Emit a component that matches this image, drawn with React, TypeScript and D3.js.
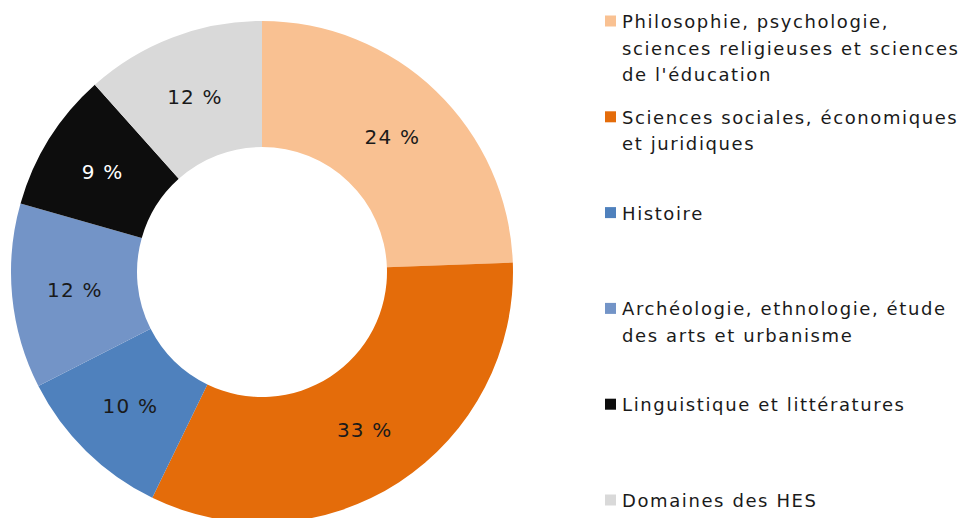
import React, { useRef, useEffect } from "react";
import * as d3 from "d3";

const categories = [
  "Philosophie, psychologie, sciences religieuses et sciences de l'éducation",
  "Sciences sociales, économiques et juridiques",
  "Histoire",
  "Archéologie, ethnologie, étude des arts et urbanisme",
  "Linguistique et littératures",
  "Domaines des HES",
];
// shares in % (labels show them rounded)
const shares = [24.4, 32.8, 10.3, 11.9, 9.0, 11.6];
// how the legend breaks each name into lines
const legendLines = [
  ["Philosophie, psychologie,", "sciences religieuses et sciences", "de l'éducation"],
  ["Sciences sociales, économiques", "et juridiques"],
  ["Histoire"],
  ["Archéologie, ethnologie, étude", "des arts et urbanisme"],
  ["Linguistique et littératures"],
  ["Domaines des HES"],
];
const colors = ["#F9C192", "#E46C0A", "#4F81BD", "#7394C7", "#0D0D0D", "#D9D9D9"];

const App = () => {
  const ref = useRef<SVGSVGElement>(null);

  useEffect(() => {
    const width = 965;
    const height = 518;
    const cx = 262;
    const cy = 272;
    const outer = 251;
    const inner = 125;
    const font = "'DejaVu Sans', Verdana, sans-serif";

    const svg = d3.select(ref.current).attr("width", width).attr("height", height);
    svg.selectAll("*").remove();

    const data = categories.map((c, i) => ({ label: c, value: shares[i], color: colors[i] }));

    const pie = d3
      .pie<any>()
      .sort(null)
      .value((d) => d.value);
    const arc = d3.arc<any>().innerRadius(inner).outerRadius(outer);

    const g = svg.append("g").attr("transform", `translate(${cx}, ${cy})`);
    const arcs = pie(data);

    g.selectAll("path")
      .data(arcs)
      .enter()
      .append("path")
      .attr("d", arc)
      .attr("fill", (d) => d.data.color);

    g.selectAll("text")
      .data(arcs)
      .enter()
      .append("text")
      .attr("transform", (d) => `translate(${arc.centroid(d)})`)
      .attr("text-anchor", "middle")
      .attr("dy", "0.36em")
      .style("font-family", font)
      .style("font-size", "20px")
      .style("letter-spacing", "1.2px")
      .style("fill", (d) => (d.data.color === "#0D0D0D" ? "#ffffff" : "#1a1a1a"))
      .text((d) => `${Math.round(d.data.value)} %`);

    const legendY = d3
      .scalePoint<number>()
      .domain(d3.range(categories.length))
      .range([28, 507]);

    const legend = svg
      .append("g")
      .selectAll("g")
      .data(data)
      .enter()
      .append("g")
      .attr("transform", (d, i) => `translate(605, ${legendY(i)})`);

    legend
      .append("rect")
      .attr("x", 0)
      .attr("y", -12.5)
      .attr("width", 11)
      .attr("height", 11)
      .attr("fill", (d) => d.color);

    legend
      .append("text")
      .attr("x", 17)
      .style("font-family", font)
      .style("font-size", "18px")
      .style("letter-spacing", "1.6px")
      .style("fill", "#1a1a1a")
      .selectAll("tspan")
      .data((d, i) => legendLines[i])
      .enter()
      .append("tspan")
      .attr("x", 17)
      .attr("y", (d, j) => j * 26.5)
      .text((d) => d);
  }, []);

  return (
    <div style={{ position: "absolute", left: 0, top: 0 }}>
      <svg ref={ref} style={{ display: "block" }}></svg>
    </div>
  );
};

export default App;
